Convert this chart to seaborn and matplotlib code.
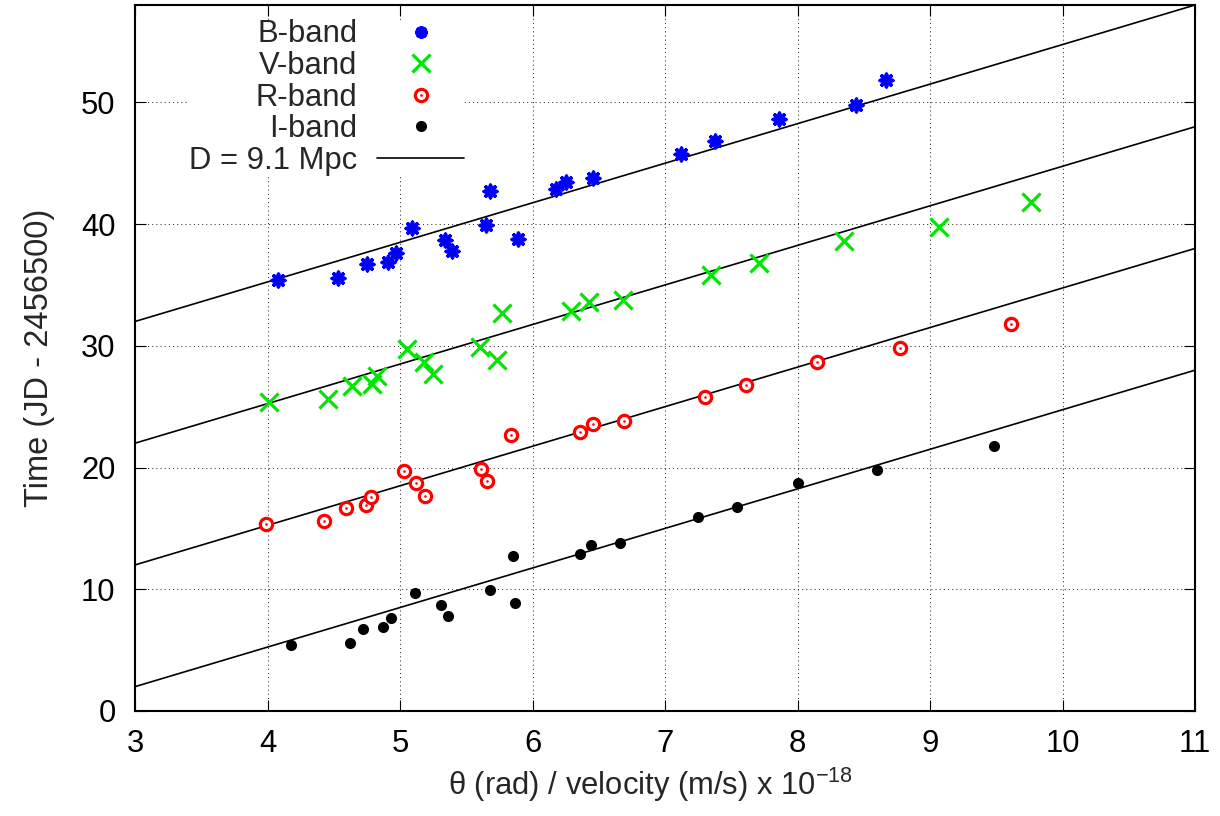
import matplotlib
matplotlib.use('Agg')
import matplotlib.pyplot as plt
from matplotlib.lines import Line2D
import pandas as pd
import seaborn as sns

# Data (x in units of 1e-18 rad/(m/s), y in JD - 2456500)
b_x = [4.08, 4.53, 4.75, 4.91, 4.97, 5.09, 5.34, 5.39, 5.65, 5.68, 5.89, 6.18, 6.25, 6.46, 7.12, 7.38, 7.86, 8.44, 8.67]
b_y = [35.4, 35.6, 36.7, 36.9, 37.6, 39.7, 38.7, 37.8, 39.9, 42.7, 38.8, 42.9, 43.5, 43.8, 45.8, 46.8, 48.6, 49.8, 51.8]

v_x = [4.01, 4.46, 4.64, 4.79, 4.83, 5.05, 5.18, 5.25, 5.60, 5.73, 5.77, 6.29, 6.43, 6.68, 7.35, 7.71, 8.35, 9.07, 9.76]
v_y = [25.4, 25.6, 26.7, 26.9, 27.5, 29.7, 28.7, 27.7, 29.9, 28.8, 32.7, 32.9, 33.6, 33.8, 35.8, 36.8, 38.6, 39.8, 41.8]

r_x = [3.99, 4.43, 4.59, 4.74, 4.78, 5.03, 5.12, 5.19, 5.61, 5.66, 5.84, 6.36, 6.46, 6.69, 7.30, 7.61, 8.15, 8.77, 9.61]
r_y = [15.4, 15.6, 16.7, 16.9, 17.6, 19.7, 18.7, 17.7, 19.9, 18.9, 22.7, 22.9, 23.6, 23.8, 25.8, 26.8, 28.7, 29.8, 31.8]

i_x = [4.18, 4.62, 4.72, 4.87, 4.93, 5.11, 5.31, 5.36, 5.68, 5.85, 5.87, 6.36, 6.44, 6.66, 7.25, 7.54, 8.00, 8.60, 9.48]
i_y = [5.4, 5.6, 6.7, 6.9, 7.6, 9.7, 8.7, 7.8, 9.9, 12.7, 8.9, 12.9, 13.6, 13.8, 15.9, 16.8, 18.7, 19.8, 21.8]

# Distance fit: t = D * theta / v, D = 9.1 Mpc -> 3.25 days per unit
fit_slope = 3.25
fit_offsets = [22.25, 12.25, 2.25, -7.75]
fit_x = [3, 11]

labels = ['B-band', 'V-band', 'R-band', 'I-band', 'D = 9.1 Mpc']

blue = '#0000ff'
green = '#00e600'
red = '#ff0000'

sns.set_style('ticks')
plt.rcParams['font.family'] = ['Liberation Sans', 'DejaVu Sans']
plt.rcParams['mathtext.fontset'] = 'custom'
plt.rcParams['mathtext.rm'] = 'Liberation Sans'
plt.rcParams['font.size'] = 22.3

fig = plt.figure(figsize=(12.2, 8.16), dpi=100)
ax = fig.add_axes([135 / 1220, 105 / 816, 1060 / 1220, 706 / 816])

# fit lines
rows = []
for k, c in enumerate(fit_offsets):
    for x in fit_x:
        rows.append({'x': x, 'y': fit_slope * x + c, 'band': k})
fit_df = pd.DataFrame(rows)
sns.lineplot(data=fit_df, x='x', y='y', units='band', estimator=None,
             color='black', lw=1.2, ax=ax, legend=False)

# points
sns.scatterplot(x=b_x, y=b_y, marker=(8, 2, 0), s=81, color=blue, linewidth=2.6, ax=ax, zorder=3)
sns.scatterplot(x=v_x, y=v_y, marker='x', s=169, color=green, linewidth=2.3, ax=ax, zorder=3)
sns.scatterplot(x=r_x, y=r_y, marker='o', s=78, color=red, facecolor='white', edgecolor=red,
                linewidth=2.3, ax=ax, zorder=3)
sns.scatterplot(x=r_x, y=r_y, marker='o', s=3.5, color=red, linewidth=0, ax=ax, zorder=4)
sns.scatterplot(x=i_x, y=i_y, marker='o', s=64, color='black', linewidth=0, ax=ax, zorder=3)

ax.set_xlim(3, 11)
ax.set_ylim(0, 58)
ax.set_xticks(range(3, 12))
ax.set_yticks(range(0, 51, 10))
ax.set_xlabel(r'θ (rad) / velocity (m/s) x 10$^{\mathregular{-18}}$', labelpad=5)
ax.xaxis.label.set_x((651 - 135) / 1060)
ax.set_ylabel('Time (JD - 2456500)', labelpad=19, fontsize=23.5)

ax.tick_params(direction='in', length=8, width=0.8, top=True, right=True, colors='black')
ax.tick_params(axis='x', pad=13)
ax.tick_params(axis='y', pad=14)
for s in ax.spines.values():
    s.set_visible(True)
    s.set_linewidth(1.5)
    s.set_color('black')

ax.set_axisbelow(True)
ax.grid(True, linestyle=(0, (1, 3)), color='#333333', lw=0.75)

# legend
h_b = Line2D([], [], ls='none', marker=(8, 2, 0), ms=9, mew=2.6, color=blue)
h_v = Line2D([], [], ls='none', marker='x', ms=13, mew=2.3, color=green)
h_r = (Line2D([], [], ls='none', marker='o', ms=8.8, mew=2.3, mfc='white', mec=red),
       Line2D([], [], ls='none', marker='o', ms=1.9, mew=0, color=red))
h_i = Line2D([], [], ls='none', marker='o', ms=8, mew=0, color='black')
h_d = Line2D([], [], color='black', lw=1.2)

leg = ax.legend([h_b, h_v, h_r, h_i, h_d], labels, loc='upper right',
                bbox_to_anchor=(464 / 1220, 1 - 19.5 / 816), bbox_transform=fig.transFigure,
                markerfirst=False, frameon=True, facecolor='white', edgecolor='none',
                framealpha=1, fancybox=False, handlelength=2.8, handletextpad=0.65,
                labelspacing=0.05, borderpad=0, borderaxespad=0, numpoints=1)
leg.set_zorder(2.2)

fig.savefig('out.png', dpi=100)
